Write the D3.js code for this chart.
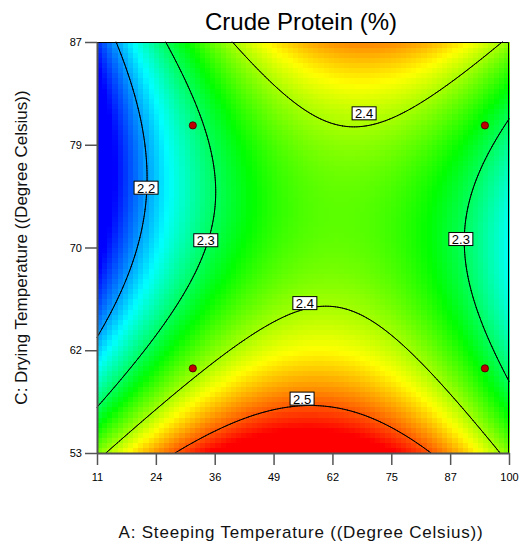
<!DOCTYPE html>
<html>
<head>
<meta charset="utf-8">
<script src="https://cdn.jsdelivr.net/npm/d3@7"></script>
<style>
  body { margin: 0; background: #fff; }
  svg { display: block; font-family: Arial, "Liberation Sans", Helvetica, sans-serif; }
</style>
</head>
<body>
<svg id="chart" width="519" height="547"></svg>
<script>
// ---- factor ranges (actual units) ----
const steepRange = [11, 100];   // A: steeping temperature
const dryRange = [53, 87];      // C: drying temperature

// ---- tick labels (evenly spaced over each range) ----
const xTickLabels = ["11", "24", "36", "49", "62", "75", "87", "100"];
const yTickLabels = ["53", "62", "70", "79", "87"];

// ---- fitted quadratic model in coded units ----
// terms: intercept, A, C, AC, A^2, C^2
const modelTerms = ["Intercept", "A", "C", "AC", "A^2", "C^2"];
const modelCoefs = [2.3698, 0.059, -0.0552, 0.059, -0.189, 0.148];

// ---- contour levels ----
const contourLevels = [2.2, 2.3, 2.4, 2.5];

// ---- design points ----
const designA = [31.7, 31.7, 94.8, 94.8];
const designC = [80.1, 60.0, 80.1, 60.0];

// ---- contour label anchors ----
const labelLevels = [2.2, 2.3, 2.4, 2.3, 2.4, 2.5];
const labelA = [21.6, 34.5, 68.7, 89.6, 55.9, 55.3];
const labelC = [74.95, 70.6, 81.1, 70.7, 65.4, 57.5];

// ---- colour ramp (response value -> colour) ----
const colorStops = [2.138, 2.2368, 2.3355, 2.4343, 2.533];
const colorRamp = ["#0000ff", "#00ffff", "#00ff00", "#ffff00", "#ff0000"];

// ------------------------------------------------------------
const W = 519, H = 547;
const plot = { left: 97, right: 509, top: 42, bottom: 453 };

const svg = d3.select("#chart");

const x = d3.scaleLinear().domain(steepRange).range([plot.left, plot.right]);
const y = d3.scaleLinear().domain(dryRange).range([plot.bottom, plot.top]);
const color = d3.scaleLinear().domain(colorStops).range(colorRamp).clamp(true);

const coded = (v, r) => (v - (r[0] + r[1]) / 2) / ((r[1] - r[0]) / 2);
const coef = Object.fromEntries(modelTerms.map((t, i) => [t, modelCoefs[i]]));

function response(A, C) {
  const a = coded(A, steepRange), c = coded(C, dryRange);
  return coef["Intercept"] + coef["A"] * a + coef["C"] * c + coef["AC"] * a * c +
         coef["A^2"] * a * a + coef["C^2"] * c * c;
}

// ---- colour field ----
const cells = 80;
const dA = (steepRange[1] - steepRange[0]) / cells;
const dC = (dryRange[1] - dryRange[0]) / cells;
const cellData = [];
for (let j = 0; j < cells; j++) {
  for (let i = 0; i < cells; i++) {
    const A0 = steepRange[0] + i * dA, C0 = dryRange[0] + j * dC;
    cellData.push({ A0, A1: A0 + dA, C0, C1: C0 + dC, v: response(A0 + dA / 2, C0 + dC / 2) });
  }
}

svg.append("g")
  .attr("shape-rendering", "crispEdges")
  .selectAll("rect")
  .data(cellData)
  .join("rect")
  .attr("x", d => x(d.A0))
  .attr("y", d => y(d.C1))
  .attr("width", d => x(d.A1) - x(d.A0) + 0.5)
  .attr("height", d => y(d.C0) - y(d.C1) + 0.5)
  .attr("fill", d => color(d.v));

// ---- contour lines (marching squares) ----
const M = 240;
const gA = d3.range(M + 1).map(i => steepRange[0] + i * (steepRange[1] - steepRange[0]) / M);
const gC = d3.range(M + 1).map(j => dryRange[0] + j * (dryRange[1] - dryRange[0]) / M);
const grid = gC.map(C => gA.map(A => response(A, C)));

function contourPath(level) {
  const segs = [];
  const cross = (p, q, vp, vq) => {
    const t = (level - vp) / (vq - vp);
    return [p[0] + t * (q[0] - p[0]), p[1] + t * (q[1] - p[1])];
  };
  for (let j = 0; j < M; j++) {
    for (let i = 0; i < M; i++) {
      const P = [[gA[i], gC[j]], [gA[i + 1], gC[j]], [gA[i + 1], gC[j + 1]], [gA[i], gC[j + 1]]];
      const V = [grid[j][i], grid[j][i + 1], grid[j + 1][i + 1], grid[j + 1][i]];
      const pts = [];
      for (let k = 0; k < 4; k++) {
        const k2 = (k + 1) % 4;
        if ((V[k] - level) * (V[k2] - level) < 0) pts.push(cross(P[k], P[k2], V[k], V[k2]));
      }
      if (pts.length === 2) segs.push(pts);
      else if (pts.length === 4) { segs.push([pts[0], pts[1]]); segs.push([pts[2], pts[3]]); }
    }
  }
  return segs.map(s => `M${x(s[0][0])},${y(s[0][1])}L${x(s[1][0])},${y(s[1][1])}`).join("");
}

svg.append("g")
  .selectAll("path")
  .data(contourLevels)
  .join("path")
  .attr("d", d => contourPath(d))
  .attr("fill", "none")
  .attr("stroke", "#000")
  .attr("stroke-width", 1)
  .attr("stroke-linecap", "round");

// ---- frame (top / right) ----
svg.append("path")
  .attr("d", `M${plot.left},${plot.top + 0.5}H${plot.right - 0.5}V${plot.bottom}`)
  .attr("fill", "none")
  .attr("stroke", "#000")
  .attr("stroke-width", 1);

// ---- axes ----
const xTickVals = xTickLabels.map((_, i) => steepRange[0] + i * (steepRange[1] - steepRange[0]) / (xTickLabels.length - 1));
const yTickVals = yTickLabels.map((_, i) => dryRange[0] + i * (dryRange[1] - dryRange[0]) / (yTickLabels.length - 1));

const xAxis = svg.append("g")
  .attr("transform", `translate(0,${plot.bottom})`)
  .call(d3.axisBottom(x).tickValues(xTickVals).tickFormat((d, i) => xTickLabels[i])
    .tickSize(12).tickSizeOuter(0).tickPadding(8));

const yAxis = svg.append("g")
  .attr("transform", `translate(${plot.left},0)`)
  .call(d3.axisLeft(y).tickValues(yTickVals).tickFormat((d, i) => yTickLabels[i])
    .tickSize(12).tickSizeOuter(0).tickPadding(3));

[xAxis, yAxis].forEach(g => {
  g.select(".domain").attr("stroke", "#555").attr("stroke-width", 2);
  g.selectAll(".tick line").attr("stroke", "#555").attr("stroke-width", 1.5);
  g.selectAll(".tick text").attr("fill", "#000").style("font-size", "11px")
    .style("font-family", "Arial, 'Liberation Sans', sans-serif");
});

// ---- design points ----
svg.append("g")
  .selectAll("circle")
  .data(designA.map((A, i) => ({ A, C: designC[i] })))
  .join("circle")
  .attr("cx", d => x(d.A))
  .attr("cy", d => y(d.C))
  .attr("r", 3.6)
  .attr("fill", "#c00000")
  .attr("stroke", "#400000")
  .attr("stroke-width", 0.8);

// ---- contour labels ----
const fmt = d3.format(".1f");
const labels = svg.append("g")
  .selectAll("g")
  .data(labelLevels.map((lv, i) => ({ lv, A: labelA[i], C: labelC[i] })))
  .join("g")
  .attr("transform", d => `translate(${x(d.A)},${y(d.C)})`);

labels.append("rect")
  .attr("x", -12).attr("y", -6.5)
  .attr("width", 24).attr("height", 13)
  .attr("fill", "#fff")
  .attr("stroke", "#000")
  .attr("stroke-width", 1);

labels.append("text")
  .attr("text-anchor", "middle")
  .attr("y", 5)
  .style("font-size", "13px")
  .attr("fill", "#000")
  .text(d => fmt(d.lv));

// ---- titles ----
svg.append("text")
  .attr("x", 301).attr("y", 30)
  .attr("text-anchor", "middle")
  .style("font-size", "24px")
  .attr("fill", "#000")
  .text("Crude Protein (%)");

svg.append("text")
  .attr("x", 301).attr("y", 538)
  .attr("text-anchor", "middle")
  .style("font-size", "17px")
  .style("letter-spacing", "0.8px")
  .attr("fill", "#111")
  .text("A: Steeping Temperature ((Degree Celsius))");

svg.append("text")
  .attr("transform", `translate(27,${(plot.top + plot.bottom) / 2}) rotate(-90)`)
  .attr("text-anchor", "middle")
  .style("font-size", "17px")
  .attr("fill", "#111")
  .text("C: Drying Temperature ((Degree Celsius))");
</script>
</body>
</html>
